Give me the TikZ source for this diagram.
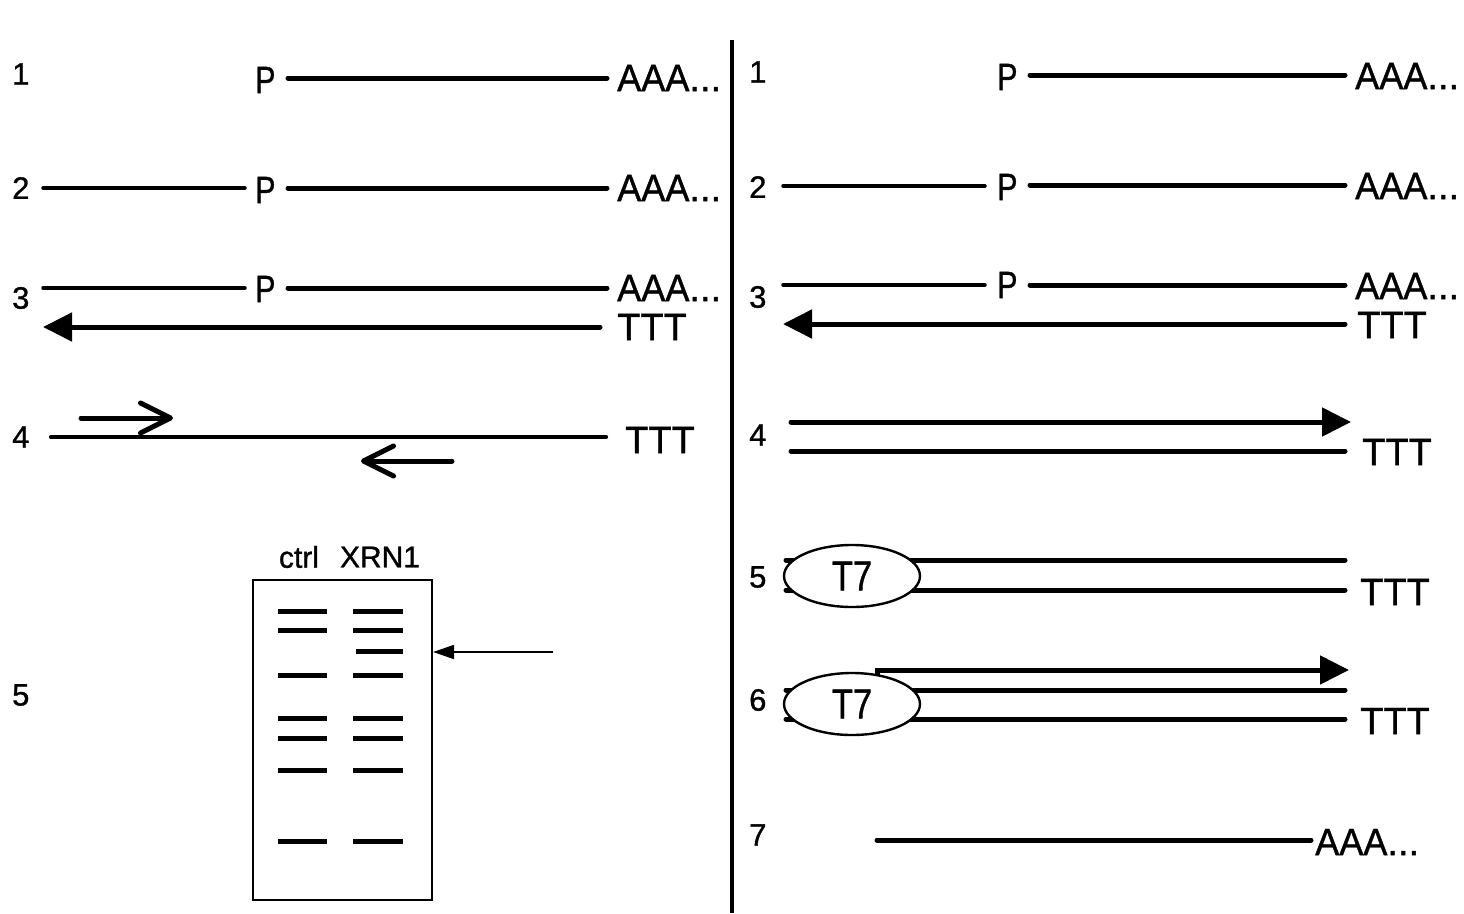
\documentclass[tikz,border=0pt]{standalone}
\usepackage{fontspec}
\setmainfont[FakeBold=1]{Liberation Sans}
\usetikzlibrary{arrows.meta,shapes.geometric}
% poly(A) tail label with slightly condensed letters
\newcommand\polyA{\scalebox{0.95}[1]{AAA}...}
\newcommand\capP{\scalebox{0.8}[1]{P}}
\begin{document}
\begin{tikzpicture}[x=1pt,y=-1pt,
  num/.style={anchor=west,inner sep=0pt,font=\fontsize{31}{32}\selectfont},
  lab/.style={anchor=west,inner sep=0pt,font=\fontsize{38}{40}\selectfont},
  gellab/.style={inner sep=0pt,font=\fontsize{30}{32}\selectfont},
  strand/.style={line width=5pt,line cap=round},
  thinstrand/.style={line width=3.5pt,line cap=round},
  fillhead/.style={-{Triangle[length=29pt,width=28pt]}},
  openhead/.style={line width=5pt,line cap=round,-{Straight Barb[length=30pt,width=30pt,round]}},
  band/.style={line width=5pt},
  polymerase/.style={ellipse,draw,line width=2.4pt,fill=white,minimum width=136pt,minimum height=62pt,inner sep=0pt,font=\fontsize{42}{44}\selectfont}
]
\useasboundingbox (0,0) rectangle (1464,913);

% divider between the two panels
\coordinate (divT) at (732,40);
\coordinate (divB) at (732,913);
\draw[line width=4pt] (divT) -- (divB);

% ---------------- left panel ----------------
% step 1
\node[num] (L1n) at (12,74) {1};
\node[lab] (L1p) at (255,80) {\capP};
\node[lab] (L1a) at (617,78) {\polyA};
\coordinate (L1s) at (288,78);
\coordinate (L1e) at (607,78);
\draw[strand] (L1s) -- (L1e);

% step 2
\node[num] (L2n) at (12,188) {2};
\node[lab] (L2p) at (255,190) {\capP};
\node[lab] (L2a) at (617,188) {\polyA};
\coordinate (L2u) at (43,188);
\coordinate (L2v) at (245,188);
\coordinate (L2s) at (288,188);
\coordinate (L2e) at (607,188);
\draw[thinstrand] (L2u) -- (L2v);
\draw[strand] (L2s) -- (L2e);

% step 3
\node[num] (L3n) at (12,298) {3};
\node[lab] (L3p) at (255,289) {\capP};
\node[lab] (L3a) at (617,288) {\polyA};
\node[lab] (L3t) at (617,327) {TTT};
\coordinate (L3u) at (43,288);
\coordinate (L3v) at (245,288);
\coordinate (L3s) at (288,288);
\coordinate (L3e) at (607,288);
\coordinate (L3r) at (600,327);
\coordinate (L3l) at (43,327);
\draw[thinstrand] (L3u) -- (L3v);
\draw[strand] (L3s) -- (L3e);
\draw[strand,fillhead] (L3r) -- (L3l);

% step 4
\node[num] (L4n) at (12,437) {4};
\node[lab] (L4t) at (625,440) {TTT};
\coordinate (L4s) at (51,437);
\coordinate (L4e) at (606,437);
\draw[line width=4.2pt,line cap=round] (L4s) -- (L4e);
\coordinate (F1) at (81,418);
\coordinate (F2) at (173,418);
\draw[openhead] (F1) -- (F2);
\coordinate (R1) at (452,461);
\coordinate (R2) at (361,461);
\draw[openhead] (R1) -- (R2);

% step 5: gel
\node[num] (L5n) at (12,695) {5};
\node[gellab] (ctrl) at (299,557) {ctrl};
\node[gellab] (xrn) at (380,557) {XRN1};
\node[draw,line width=2.2pt,minimum width=179pt,minimum height=320pt,inner sep=0pt] (gel) at (342.5,740) {};
\foreach \y in {611,630,675,718,738,770,841}{
  \draw[band] (278,\y) -- (327,\y);
  \draw[band] (353,\y) -- (403,\y);
}
\draw[band] (356,651) -- (403,651);
\coordinate (gA) at (553,652);
\draw[line width=2pt,-{Triangle[length=21pt,width=14pt]}] (gA) -- (gel.east |- gA);

% ---------------- right panel ----------------
% step 1
\node[num] (R1n) at (749,72) {1};
\node[lab] (R1p) at (997,77) {\capP};
\node[lab] (R1a) at (1355,76) {\polyA};
\coordinate (R1s) at (1030,75);
\coordinate (R1e) at (1345,75);
\draw[strand] (R1s) -- (R1e);

% step 2
\node[num] (R2n) at (749,187) {2};
\node[lab] (R2p) at (997,187) {\capP};
\node[lab] (R2a) at (1355,186) {\polyA};
\coordinate (R2u) at (783,186);
\coordinate (R2v) at (985,186);
\coordinate (R2s) at (1030,185);
\coordinate (R2e) at (1345,185);
\draw[thinstrand] (R2u) -- (R2v);
\draw[strand] (R2s) -- (R2e);

% step 3
\node[num] (R3n) at (749,297) {3};
\node[lab] (R3p) at (997,285) {\capP};
\node[lab] (R3a) at (1355,286) {\polyA};
\node[lab] (R3t) at (1357,325) {TTT};
\coordinate (R3u) at (783,285);
\coordinate (R3v) at (985,285);
\coordinate (R3s) at (1030,285);
\coordinate (R3e) at (1345,285);
\coordinate (R3r) at (1345,324);
\coordinate (R3l) at (783,324);
\draw[thinstrand] (R3u) -- (R3v);
\draw[strand] (R3s) -- (R3e);
\draw[strand,fillhead] (R3r) -- (R3l);

% step 4
\node[num] (R4n) at (749,435) {4};
\node[lab] (R4t) at (1362,452) {TTT};
\coordinate (R4a) at (791,422);
\coordinate (R4b) at (1351,422);
\coordinate (R4s) at (791,451);
\coordinate (R4e) at (1345,451);
\draw[strand,fillhead] (R4a) -- (R4b);
\draw[strand] (R4s) -- (R4e);

% step 5
\node[num] (R5n) at (749,577) {5};
\node[lab] (R5t) at (1360,592) {TTT};
\coordinate (R5a) at (786,560);
\coordinate (R5b) at (1345,560);
\coordinate (R5c) at (786,590);
\coordinate (R5d) at (1345,590);
\draw[strand] (R5a) -- (R5b);
\draw[strand] (R5c) -- (R5d);
\node[polymerase] (T7a) at (852,576) {\scalebox{0.82}[1]{T7}};

% step 6
\node[num] (R6n) at (749,700) {6};
\node[lab] (R6t) at (1360,721) {TTT};
\coordinate (R6a) at (786,690);
\coordinate (R6b) at (1345,690);
\coordinate (R6c) at (786,719);
\coordinate (R6d) at (1345,719);
\coordinate (R6x) at (877,678);
\coordinate (R6y) at (1349,670);
\draw[strand] (R6a) -- (R6b);
\draw[strand] (R6c) -- (R6d);
\draw[strand,line cap=butt,fillhead] (R6x) |- (R6y);
\node[polymerase] (T7b) at (852,704) {\scalebox{0.82}[1]{T7}};

% step 7
\node[num] (R7n) at (749,835) {7};
\node[lab] (R7a) at (1315,842) {\polyA};
\coordinate (R7s) at (877,840);
\coordinate (R7e) at (1311,840);
\draw[strand] (R7s) -- (R7e);
\end{tikzpicture}
\end{document}
